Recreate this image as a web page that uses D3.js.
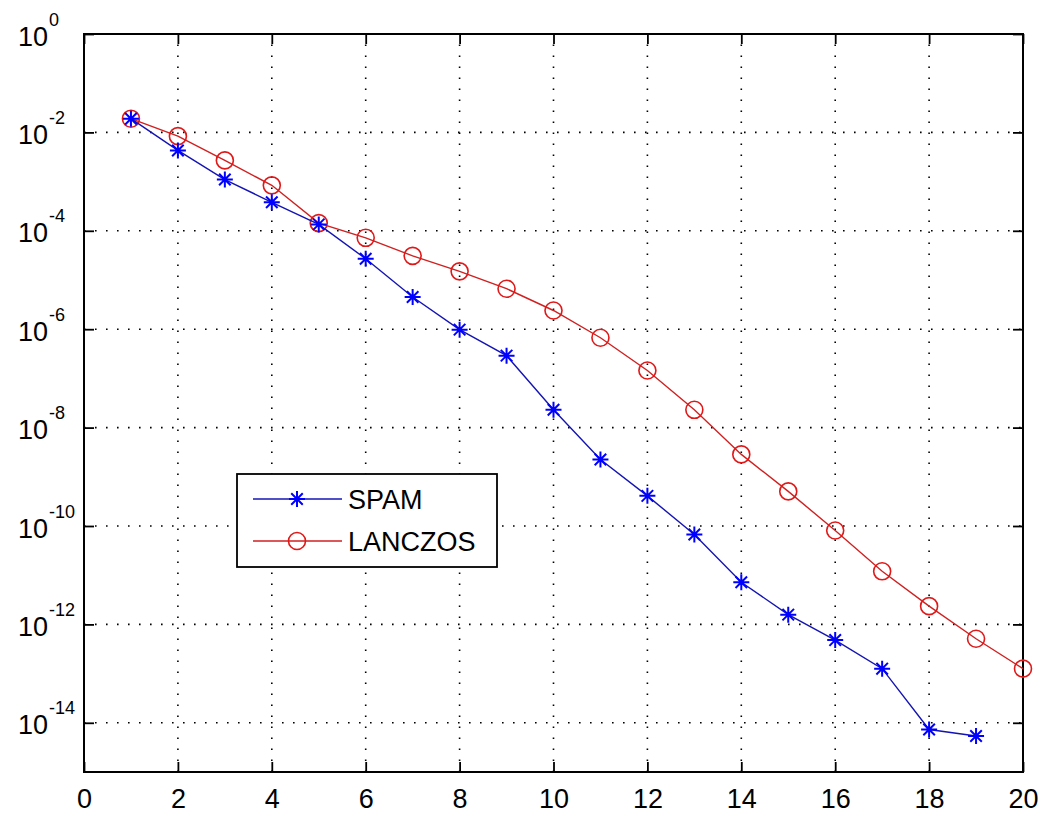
<!DOCTYPE html>
<html>
<head>
<meta charset="utf-8">
<script src="https://cdn.jsdelivr.net/npm/d3@7"></script>
<style>
  html, body { margin: 0; padding: 0; background: #fff; }
  svg { display: block; }
  text { font-family: "Liberation Sans", Arial, Helvetica, sans-serif; fill: #000; }
</style>
</head>
<body>
<svg id="chart" width="1041" height="816"></svg>
<script>
// ---- data ----
const iterations = [1,2,3,4,5,6,7,8,9,10,11,12,13,14,15,16,17,18,19,20];
const spamIter = iterations.slice(0, 19);
const spamValues = [1.9e-2, 4.3e-3, 1.1e-3, 3.8e-4, 1.35e-4, 2.7e-5, 4.5e-6, 9.8e-7, 2.9e-7, 2.3e-8,
                    2.25e-9, 4.1e-10, 6.7e-11, 7.2e-12, 1.58e-12, 4.8e-13, 1.26e-13, 7.3e-15, 5.4e-15];
const lanczosValues = [1.9e-2, 8.4e-3, 2.7e-3, 8.4e-4, 1.43e-4, 7.2e-5, 3.1e-5, 1.5e-5, 6.65e-6, 2.4e-6,
                       6.7e-7, 1.45e-7, 2.3e-8, 2.85e-9, 5.05e-10, 8.1e-11, 1.2e-11, 2.35e-12, 5.1e-13, 1.26e-13];
const xTicks = [0,2,4,6,8,10,12,14,16,18,20];
const yTickExps = [0,-2,-4,-6,-8,-10,-12,-14];
const seriesNames = ["SPAM", "LANCZOS"];

// ---- layout ----
const L = 84, R = 1023, T = 34, B = 772;
const svg = d3.select("#chart");
const x = d3.scaleLinear().domain([0, 20]).range([L, R]);
const y = d3.scaleLog().domain([1e-15, 1]).range([B, T]);
const yTicks = yTickExps.map(e => Math.pow(10, e));

// ---- grid ----
const grid = svg.append("g");
xTicks.filter(v => v > 0 && v < 20).forEach(v => {
  grid.append("line").attr("x1", x(v)).attr("x2", x(v)).attr("y1", y(1e-15)).attr("y2", y(1))
    .attr("stroke", "#000").attr("stroke-width", 1.6).attr("stroke-dasharray", "1.6,9.4");
});
yTicks.filter(v => v < 1).forEach(v => {
  grid.append("line").attr("x1", x(0)).attr("x2", x(20)).attr("y1", y(v)).attr("y2", y(v))
    .attr("stroke", "#000").attr("stroke-width", 1.6).attr("stroke-dasharray", "1.6,9.4");
});

// ---- axes (ticks inward on all sides) ----
function styleAxis(g) {
  g.select(".domain").remove();
  g.selectAll(".tick line").attr("stroke", "#000").attr("stroke-width", 1.8);
}
const gxB = svg.append("g").attr("transform", `translate(0,${B})`)
  .call(d3.axisBottom(x).tickValues(xTicks).tickSize(-10).tickPadding(0).tickFormat(d3.format("d")));
styleAxis(gxB);
gxB.selectAll(".tick text").attr("y", 36).attr("dy", 0).attr("font-size", 27)
  .style("font-family", '"Liberation Sans", Arial, sans-serif');

const gxT = svg.append("g").attr("transform", `translate(0,${T})`)
  .call(d3.axisTop(x).tickValues(xTicks).tickSize(-10).tickFormat(""));
styleAxis(gxT);

const gyL = svg.append("g").attr("transform", `translate(${L},0)`)
  .call(d3.axisLeft(y).tickValues(yTicks).tickSize(-10).tickFormat(""));
styleAxis(gyL);
const gyR = svg.append("g").attr("transform", `translate(${R},0)`)
  .call(d3.axisRight(y).tickValues(yTicks).tickSize(-10).tickFormat(""));
styleAxis(gyR);

// y tick labels 10^e
gyL.selectAll(".tick").each(function(d) {
  const e = Math.round(Math.log10(d));
  const t = d3.select(this).append("text")
    .attr("x", 18 - L).attr("y", 11).attr("text-anchor", "start")
    .attr("font-size", 27).attr("fill", "#000")
    .style("font-family", '"Liberation Sans", Arial, sans-serif');
  t.append("tspan").text("10");
  t.append("tspan").attr("font-size", 18).attr("dy", -20).attr("dx", 1).text(String(e));
});

// frame
svg.append("rect").attr("x", L).attr("y", T).attr("width", R - L).attr("height", B - T)
  .attr("fill", "none").attr("stroke", "#000").attr("stroke-width", 2);

// ---- series ----
const spamData = spamIter.map((it, i) => ({ x: it, y: spamValues[i] }));
const lanczosData = iterations.map((it, i) => ({ x: it, y: lanczosValues[i] }));
const line = d3.line().x(d => x(d.x)).y(d => y(d.y));

const blueLine = "#1414b4", blueMark = "#0000ff";
const redLine = "#d02020", redMark = "#e01818";

function starPath(s) {
  const d = s * 0.72;
  return `M${-s},0L${s},0M0,${-s}L0,${s}M${-d},${-d}L${d},${d}M${-d},${d}L${d},${-d}`;
}

svg.append("path").datum(lanczosData).attr("d", line)
  .attr("fill", "none").attr("stroke", redLine).attr("stroke-width", 1.4);
svg.append("g").selectAll("circle").data(lanczosData).join("circle")
  .attr("cx", d => x(d.x)).attr("cy", d => y(d.y)).attr("r", 8.5)
  .attr("fill", "none").attr("stroke", redMark).attr("stroke-width", 1.6);

svg.append("path").datum(spamData).attr("d", line)
  .attr("fill", "none").attr("stroke", blueLine).attr("stroke-width", 1.4);
svg.append("g").selectAll("path").data(spamData).join("path")
  .attr("transform", d => `translate(${x(d.x)},${y(d.y)})`)
  .attr("d", starPath(8)).attr("fill", "none").attr("stroke", blueMark).attr("stroke-width", 2);

// ---- legend ----
const lg = svg.append("g");
lg.append("rect").attr("x", 237).attr("y", 474).attr("width", 260).attr("height", 93)
  .attr("fill", "#fff").attr("stroke", "#000").attr("stroke-width", 1.8);
const rows = [
  { name: seriesNames[0], y: 499, line: blueLine, mark: blueMark, type: "star" },
  { name: seriesNames[1], y: 541, line: redLine, mark: redMark, type: "circle" }
];
rows.forEach(r => {
  lg.append("line").attr("x1", 253).attr("x2", 342).attr("y1", r.y).attr("y2", r.y)
    .attr("stroke", r.line).attr("stroke-width", 1.4);
  if (r.type === "star") {
    lg.append("path").attr("transform", `translate(297,${r.y})`).attr("d", starPath(8))
      .attr("fill", "none").attr("stroke", r.mark).attr("stroke-width", 2);
  } else {
    lg.append("circle").attr("cx", 297).attr("cy", r.y).attr("r", 8.5)
      .attr("fill", "none").attr("stroke", r.mark).attr("stroke-width", 1.6);
  }
  lg.append("text").attr("x", 348).attr("y", r.y + 10).attr("font-size", 27).text(r.name);
});
</script>
</body>
</html>
